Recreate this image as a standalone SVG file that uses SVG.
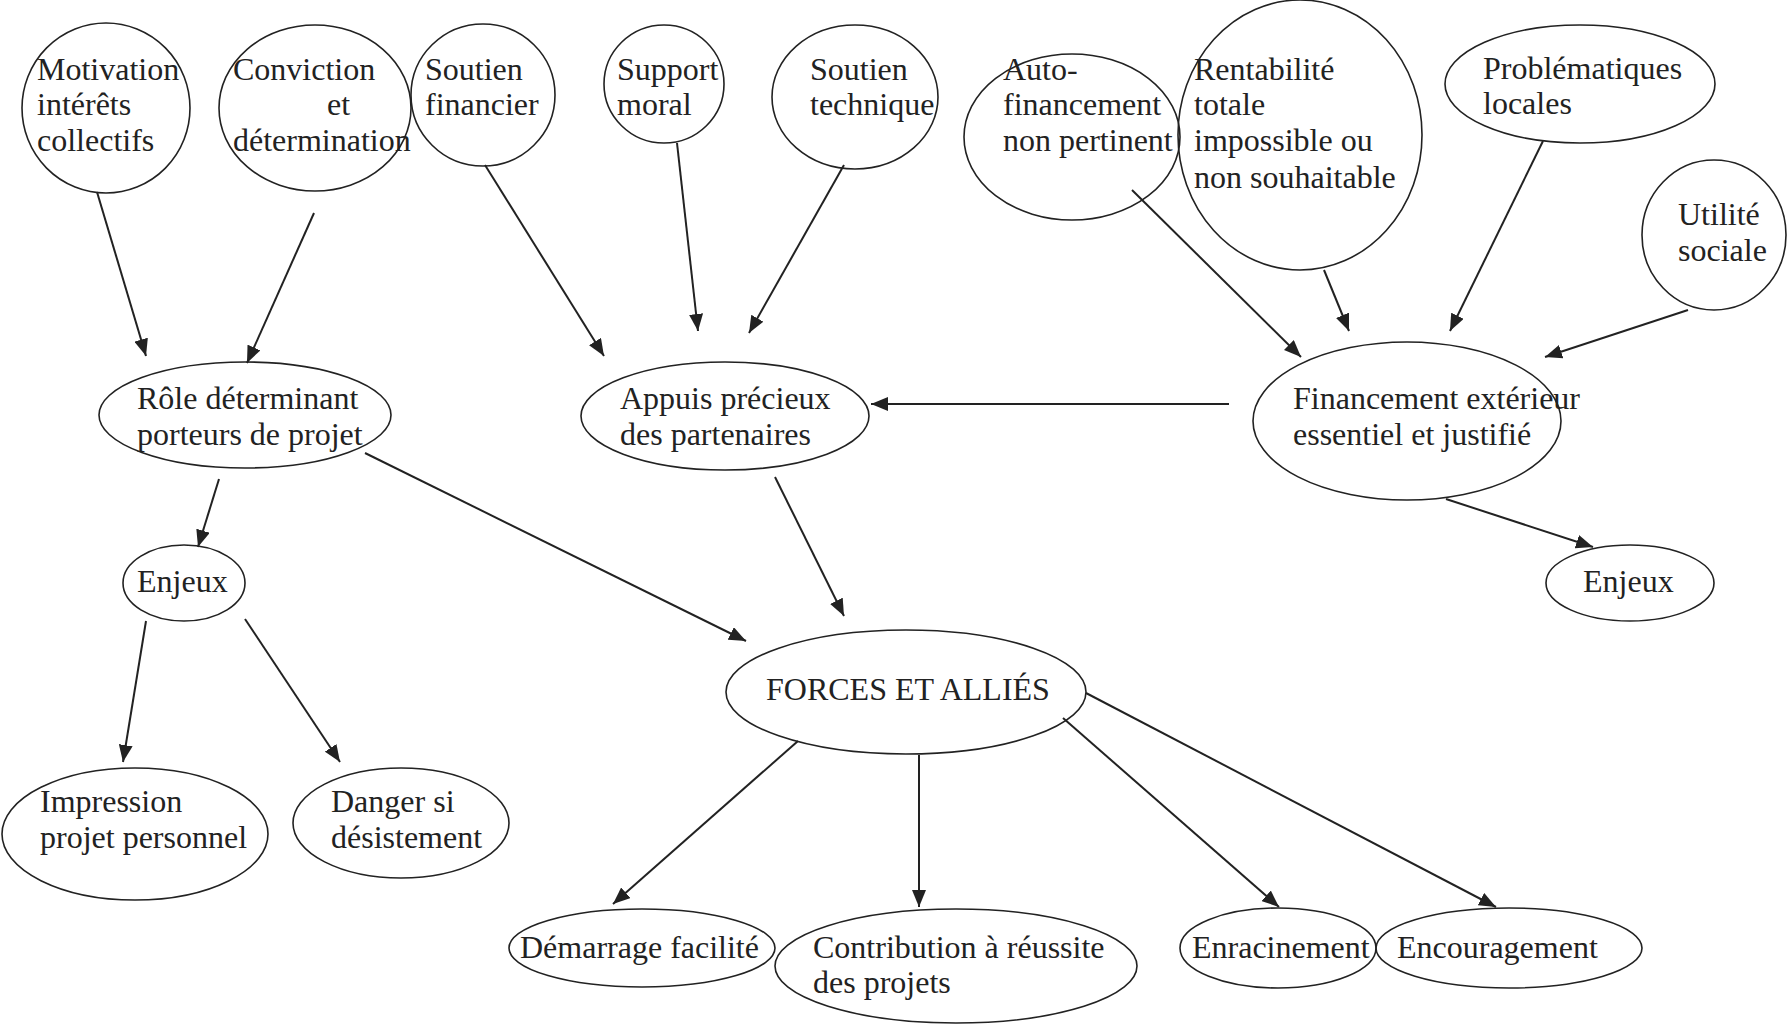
<svg xmlns="http://www.w3.org/2000/svg" width="1788" height="1029" viewBox="0 0 1788 1029">
<style>
.n ellipse{fill:none;stroke:#222;stroke-width:1.6}
text{font-family:"Liberation Serif","Times New Roman",serif;font-size:32px;fill:#222}
.c line{stroke:#222;stroke-width:2;marker-end:url(#ah)}
</style>
<defs>
<marker id="ah" markerUnits="userSpaceOnUse" markerWidth="18" markerHeight="14" refX="17" refY="7" orient="auto">
<path d="M0,0 L17,7 L0,14 z" fill="#222"/>
</marker>
</defs>
<rect width="1788" height="1029" fill="#fff"/>
<g class="c" id="connectors">
<line x1="97" y1="192" x2="146" y2="356"/>
<line x1="314" y1="213" x2="247" y2="363"/>
<line x1="485" y1="165" x2="604" y2="356"/>
<line x1="677" y1="143" x2="698" y2="331"/>
<line x1="844" y1="165" x2="749" y2="333"/>
<line x1="1132" y1="190" x2="1301" y2="357"/>
<line x1="1324" y1="270" x2="1349" y2="331"/>
<line x1="1543" y1="141" x2="1450" y2="331"/>
<line x1="1688" y1="310" x2="1545" y2="357"/>
<line x1="1229" y1="404" x2="871" y2="404"/>
<line x1="219" y1="479" x2="198" y2="547"/>
<line x1="365" y1="453" x2="746" y2="641"/>
<line x1="775" y1="477" x2="844" y2="616"/>
<line x1="146" y1="621" x2="123" y2="762"/>
<line x1="245" y1="619" x2="340" y2="762"/>
<line x1="1446" y1="499" x2="1593" y2="547"/>
<line x1="798" y1="741" x2="613" y2="904"/>
<line x1="919" y1="755" x2="919" y2="907"/>
<line x1="1063" y1="718" x2="1279" y2="907"/>
<line x1="1086" y1="693" x2="1496" y2="907"/>
</g>
<g class="n" id="motivation"><ellipse cx="106" cy="108" rx="84" ry="85"/><text x="37" y="80">Motivation</text><text x="37" y="115">intérêts</text><text x="37" y="151">collectifs</text></g>
<g class="n" id="conviction"><ellipse cx="315" cy="108" rx="96" ry="83"/><text x="233" y="80">Conviction</text><text x="327" y="115">et</text><text x="233" y="151">détermination</text></g>
<g class="n" id="soutien-financier"><ellipse cx="483" cy="95" rx="72" ry="71"/><text x="425" y="80">Soutien</text><text x="425" y="115">financier</text></g>
<g class="n" id="support-moral"><ellipse cx="664" cy="84" rx="60" ry="59"/><text x="617" y="80">Support</text><text x="617" y="115">moral</text></g>
<g class="n" id="soutien-technique"><ellipse cx="855" cy="97" rx="83" ry="72"/><text x="810" y="80">Soutien</text><text x="810" y="115">technique</text></g>
<g class="n" id="autofinancement"><ellipse cx="1072" cy="137" rx="108" ry="83"/><text x="1003" y="80">Auto-</text><text x="1003" y="115">financement</text><text x="1003" y="151">non pertinent</text></g>
<g class="n" id="rentabilite"><ellipse cx="1300" cy="135" rx="122" ry="135"/><text x="1194" y="80">Rentabilité</text><text x="1194" y="115">totale</text><text x="1194" y="151">impossible ou</text><text x="1194" y="188">non souhaitable</text></g>
<g class="n" id="problematiques"><ellipse cx="1580" cy="84" rx="135" ry="59"/><text x="1483" y="79">Problématiques</text><text x="1483" y="114">locales</text></g>
<g class="n" id="utilite"><ellipse cx="1714" cy="235" rx="72" ry="75"/><text x="1678" y="225">Utilité</text><text x="1678" y="261">sociale</text></g>
<g class="n" id="role"><ellipse cx="245" cy="415" rx="146" ry="53"/><text x="137" y="409">Rôle déterminant</text><text x="137" y="445">porteurs de projet</text></g>
<g class="n" id="appuis"><ellipse cx="725" cy="416" rx="144" ry="54"/><text x="620" y="409">Appuis précieux</text><text x="620" y="445">des partenaires</text></g>
<g class="n" id="financement"><ellipse cx="1407" cy="421" rx="154" ry="79"/><text x="1293" y="409">Financement extérieur</text><text x="1293" y="445">essentiel et justifié</text></g>
<g class="n" id="enjeux-gauche"><ellipse cx="184" cy="583" rx="61" ry="38"/><text x="137" y="592">Enjeux</text></g>
<g class="n" id="enjeux-droite"><ellipse cx="1630" cy="583" rx="84" ry="38"/><text x="1583" y="592">Enjeux</text></g>
<g class="n" id="forces"><ellipse cx="906" cy="692" rx="180" ry="62"/><text x="766" y="700">FORCES ET ALLIÉS</text></g>
<g class="n" id="impression"><ellipse cx="135" cy="834" rx="133" ry="66"/><text x="40" y="812">Impression</text><text x="40" y="848">projet personnel</text></g>
<g class="n" id="danger"><ellipse cx="401" cy="823" rx="108" ry="55"/><text x="331" y="812">Danger si</text><text x="331" y="848">désistement</text></g>
<g class="n" id="demarrage"><ellipse cx="642" cy="948" rx="133" ry="39"/><text x="520" y="958">Démarrage facilité</text></g>
<g class="n" id="contribution"><ellipse cx="956" cy="966" rx="181" ry="57"/><text x="813" y="958">Contribution à réussite</text><text x="813" y="993">des projets</text></g>
<g class="n" id="enracinement"><ellipse cx="1278" cy="948" rx="98" ry="40"/><text x="1192" y="958">Enracinement</text></g>
<g class="n" id="encouragement"><ellipse cx="1509" cy="948" rx="133" ry="40"/><text x="1397" y="958">Encouragement</text></g>
</svg>
